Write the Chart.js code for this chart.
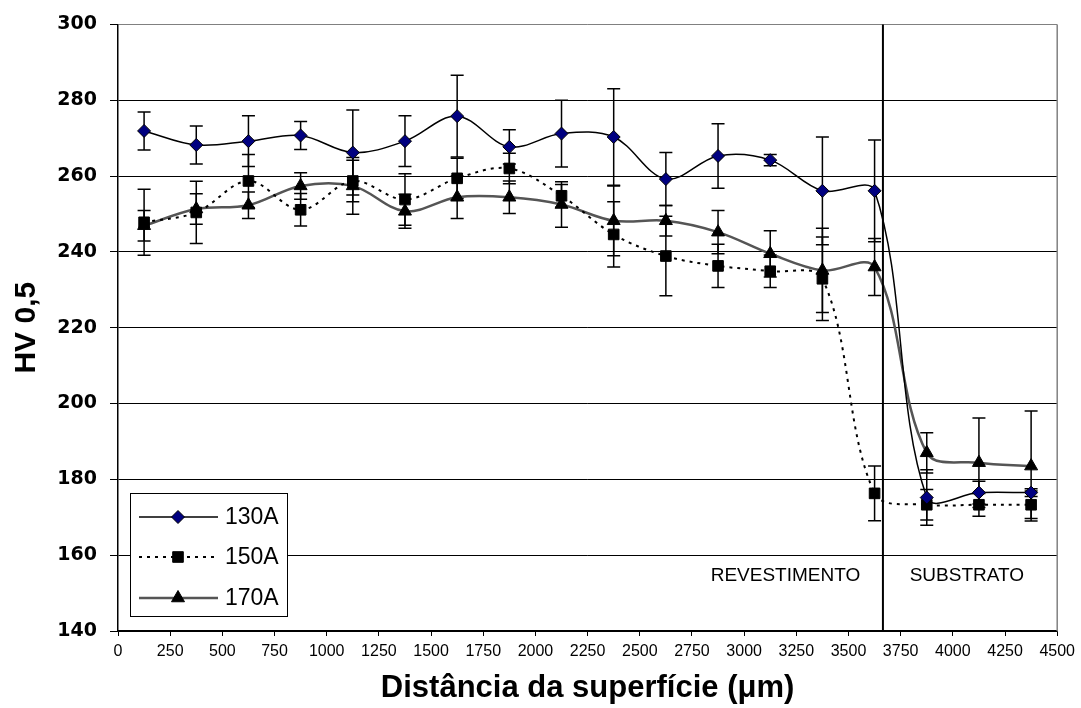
<!DOCTYPE html>
<html>
<head>
<meta charset="utf-8">
<script src="https://cdn.jsdelivr.net/npm/chart.js@4.4.0/dist/chart.umd.min.js"></script>
<style>
  body { margin: 0; background: #fff; }
  canvas { display: block; }
</style>
</head>
<body>
<canvas id="myChart" width="1081" height="708"></canvas>
<script>
// distancia da superficie (um)
const distancia = [125, 375, 625, 875, 1125, 1375, 1625, 1875, 2125, 2375, 2625, 2875, 3125, 3375, 3625, 3875, 4125, 4375];

// dureza HV 0,5 e desvio de cada corrente
const hv130  = [271.9, 268.2, 269.2, 270.7, 266.2, 269.2, 275.8, 267.7, 271.2, 270.3, 259.2, 265.3, 264.2, 256.1, 256.1, 175.2, 176.5, 176.5];
const err130 = [5.0, 5.0, 6.7, 3.7, 11.2, 6.7, 10.8, 4.5, 8.8, 12.7, 7.0, 8.5, 1.5, 14.2, 13.4, 7.3, 3.0, 1.0];
const hv150  = [247.8, 250.4, 258.7, 251.1, 258.7, 253.8, 259.4, 262.0, 254.8, 244.6, 238.9, 236.3, 234.9, 232.9, 176.3, 173.3, 173.3, 173.3];
const err150 = [8.7, 8.2, 7.0, 4.3, 5.5, 6.8, 5.3, 4.0, 3.0, 8.6, 10.5, 5.7, 4.3, 11.0, 7.2, 4.0, 3.0, 3.6];
const hv170  = [246.9, 251.3, 252.3, 257.4, 257.4, 250.7, 254.4, 254.4, 252.5, 248.2, 248.2, 245.2, 239.5, 235.1, 236.0, 187.0, 184.4, 183.5];
const err170 = [4.0, 4.0, 3.5, 3.5, 7.5, 4.5, 5.6, 4.3, 6.0, 9.2, 4.0, 5.7, 6.1, 11.1, 7.5, 5.3, 11.8, 14.5];

const xTicks = [0, 250, 500, 750, 1000, 1250, 1500, 1750, 2000, 2250, 2500, 2750, 3000, 3250, 3500, 3750, 4000, 4250, 4500];
const yTicks = [140, 160, 180, 200, 220, 240, 260, 280, 300];

const divisa = 3665; // fim do revestimento
const regioes = [['REVESTIMENTO', 3198], ['SUBSTRATO', 4067]];

function pontos(vals) {
  return vals.map((v, i) => ({ x: distancia[i], y: v }));
}

// barras de erro
const errorBars = {
  id: 'errorBars',
  beforeDatasetsDraw(chart) {
    const { ctx, scales: { x, y } } = chart;
    ctx.save();
    ctx.strokeStyle = '#000';
    ctx.lineWidth = 1.5;
    chart.data.datasets.forEach(ds => {
      ds.data.forEach((p, i) => {
        const px = x.getPixelForValue(p.x);
        const top = y.getPixelForValue(p.y + ds.erros[i]);
        const bot = y.getPixelForValue(p.y - ds.erros[i]);
        ctx.beginPath();
        ctx.moveTo(px, top); ctx.lineTo(px, bot);
        ctx.moveTo(px - 6.5, top); ctx.lineTo(px + 6.5, top);
        ctx.moveTo(px - 6.5, bot); ctx.lineTo(px + 6.5, bot);
        ctx.stroke();
      });
    });
    ctx.restore();
  }
};

// linha divisoria, textos e borda direita
const extras = {
  id: 'extras',
  afterDatasetsDraw(chart) {
    const { ctx, chartArea: a, scales: { x, y } } = chart;
    ctx.save();
    ctx.strokeStyle = '#808080';
    ctx.lineWidth = 1.5;
    ctx.beginPath();
    ctx.moveTo(a.right, a.top); ctx.lineTo(a.right, a.bottom);
    ctx.stroke();

    const dx = x.getPixelForValue(divisa);
    ctx.strokeStyle = '#000';
    ctx.lineWidth = 2;
    ctx.beginPath();
    ctx.moveTo(dx, a.top); ctx.lineTo(dx, a.bottom);
    ctx.stroke();

    ctx.fillStyle = '#000';
    ctx.font = '19px "Liberation Sans", Arial, sans-serif';
    ctx.textAlign = 'center';
    ctx.textBaseline = 'middle';
    regioes.forEach(r => {
      ctx.fillText(r[0], x.getPixelForValue(r[1]), y.getPixelForValue(154.7));
    });
    ctx.restore();
  }
};

// legenda no canto inferior esquerdo
const legenda = {
  id: 'legenda',
  afterDraw(chart) {
    const { ctx, chartArea: a } = chart;
    const bx = a.left + 12, by = a.bottom - 138;
    ctx.save();
    ctx.fillStyle = '#fff';
    ctx.fillRect(bx, by, 157, 123);
    ctx.strokeStyle = '#000';
    ctx.lineWidth = 1;
    ctx.strokeRect(bx + 0.5, by + 0.5, 157, 123);
    const rows = [24, 64, 105];
    chart.data.datasets.forEach((ds, i) => {
      const ly = by + rows[i];
      ctx.strokeStyle = ds.borderColor;
      ctx.lineWidth = ds.borderWidth;
      ctx.setLineDash(ds.borderDash || []);
      ctx.beginPath();
      ctx.moveTo(bx + 9, ly); ctx.lineTo(bx + 88, ly);
      ctx.stroke();
      ctx.setLineDash([]);
      ctx.fillStyle = ds.pointBackgroundColor;
      ctx.strokeStyle = ds.pointBorderColor;
      ctx.lineWidth = ds.pointBorderWidth;
      Chart.helpers.drawPoint(ctx, {
        pointStyle: ds.pointStyle, radius: ds.pointRadius,
        borderWidth: ds.pointBorderWidth, rotation: 0
      }, bx + 48, ly);
      ctx.fillStyle = '#000';
      ctx.font = '23px "Liberation Sans", Arial, sans-serif';
      ctx.textAlign = 'left';
      ctx.textBaseline = 'middle';
      ctx.fillText(ds.label, bx + 95, ly + 1);
    });
    ctx.restore();
  }
};

const ctx = document.getElementById('myChart');
const myChart = new Chart(ctx, {
  type: 'line',
  data: {
    datasets: [{
      label: '130A',
      data: pontos(hv130),
      erros: err130,
      borderColor: '#000',
      borderWidth: 1.5,
      pointStyle: 'rectRot',
      pointRadius: 6.5,
      pointBackgroundColor: '#000080',
      pointBorderColor: '#000',
      pointBorderWidth: 1,
      tension: 0.35
    }, {
      label: '150A',
      data: pontos(hv150),
      erros: err150,
      borderColor: '#000',
      borderWidth: 2,
      borderDash: [3, 5],
      pointStyle: 'rect',
      pointRadius: 7.5,
      pointBackgroundColor: '#000',
      pointBorderColor: '#000',
      pointBorderWidth: 1,
      tension: 0.35
    }, {
      label: '170A',
      data: pontos(hv170),
      erros: err170,
      borderColor: '#555',
      borderWidth: 2.5,
      pointStyle: 'triangle',
      pointRadius: 7.5,
      pointBackgroundColor: '#000',
      pointBorderColor: '#000',
      pointBorderWidth: 1,
      tension: 0.35
    }]
  },
  options: {
    responsive: false,
    animation: false,
    devicePixelRatio: 1,
    layout: { padding: { top: 21, right: 21, left: 0, bottom: 0 } },
    plugins: {
      legend: { display: false },
      tooltip: { enabled: false }
    },
    scales: {
      x: {
        type: 'linear',
        min: 0,
        max: 4500,
        afterBuildTicks: s => { s.ticks = xTicks.map(v => ({ value: v })); },
        afterFit: s => { s.height = 77; },
        ticks: {
          autoSkip: false,
          maxRotation: 0,
          padding: 6,
          color: '#000',
          font: { family: '"Liberation Sans", Arial, sans-serif', size: 16 },
          callback: v => String(v)
        },
        grid: { drawOnChartArea: false, drawTicks: true, tickLength: 5, color: '#000' },
        border: { color: '#000', width: 1.5 },
        title: {
          display: true,
          text: 'Distância da superfície (μm)',
          color: '#000',
          font: { family: '"Liberation Sans", Arial, sans-serif', size: 31, weight: 'bold' },
          padding: { top: 0, bottom: 1 }
        }
      },
      y: {
        min: 140,
        max: 300,
        afterBuildTicks: s => { s.ticks = yTicks.map(v => ({ value: v })); },
        afterFit: s => { s.width = 118; },
        ticks: {
          padding: 13,
          color: '#000',
          font: { family: '"DejaVu Sans", sans-serif', size: 19, weight: 'bold' }
        },
        grid: {
          color: c => (c.tick && c.tick.value === 300 ? '#808080' : '#000'),
          tickColor: '#000',
          lineWidth: 1,
          tickLength: 8
        },
        border: { color: '#000', width: 1.5 },
        title: {
          display: true,
          text: 'HV 0,5',
          color: '#000',
          font: { family: '"Liberation Sans", Arial, sans-serif', size: 30, weight: 'bold' },
          padding: { top: 9, bottom: 0 }
        }
      }
    }
  },
  plugins: [errorBars, extras, legenda]
});
</script>
</body>
</html>
